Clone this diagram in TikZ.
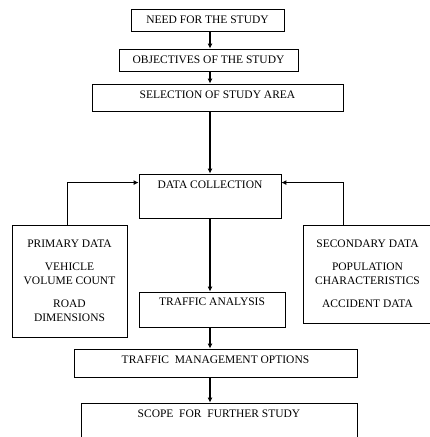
\documentclass[tikz,border=0pt]{standalone}
\usepackage{fontspec}
\setmainfont{Liberation Serif}
\usetikzlibrary{positioning,arrows.meta}

\begin{document}
\begin{tikzpicture}[
  x=1pt,y=1pt,
  font=\fontsize{11.5}{14}\selectfont,
  box/.style={draw,line width=0.8pt,inner sep=0pt,align=center},
  flow/.style={->,line width=1.2pt},
  side/.style={->,line width=0.9pt},
  >={Latex[length=5pt,width=5pt]}]
  \useasboundingbox (0,0) rectangle (429,437);
  % main column
  \node[box,minimum width=153pt,minimum height=22pt] (need) at (207.5,417) {NEED FOR THE STUDY};
  \node[box,minimum width=179pt,minimum height=22pt] (obj) at (208.5,377) {OBJECTIVES OF THE STUDY};
  \node[box,minimum width=251pt,minimum height=27pt,
        label={[anchor=north,yshift=-4pt]north:SELECTION OF STUDY AREA}] (sel) at (217.5,339.5) {};
  \node[box,minimum width=142pt,minimum height=44pt,
        label={[anchor=north,yshift=-4pt]north:DATA COLLECTION}] (dc) at (210,241) {};
  % data sources
  \node[box,minimum width=115pt,minimum height=112pt] (pd) at (69.5,156)
    {PRIMARY DATA\\[9pt]VEHICLE\\VOLUME COUNT\\[9pt]ROAD\\DIMENSIONS};
  \node[box,minimum width=129pt,minimum height=98pt] (sd) at (367.5,163)
    {SECONDARY DATA\\[9pt]POPULATION\\CHARACTERISTICS\\[9pt]ACCIDENT DATA};
  % analysis and results
  \node[box,minimum width=146pt,minimum height=35pt,
        label={[anchor=north,yshift=-3pt]north:TRAFFIC ANALYSIS}] (ta) at (212,127.5) {};
  \node[box,minimum width=283pt,minimum height=28pt,
        label={[anchor=north,yshift=-4pt]north:TRAFFIC\ \ MANAGEMENT OPTIONS}] (tm) at (215.5,74) {};
  \node[box,minimum width=276pt,minimum height=60pt,
        label={[anchor=north,yshift=-4pt]north:SCOPE\ \ FOR\ \ FURTHER STUDY}] (sc) at (219,4) {};
  % arrows
  \draw[flow] (need.south -| dc) -- (obj.north -| dc);
  \draw[flow] (obj.south -| dc) -- (sel.north -| dc);
  \draw[flow] (sel.south -| dc) -- (dc.north);
  \draw[flow] (dc.south) -- (ta.north -| dc);
  \draw[flow] (ta.south -| dc) -- (tm.north -| dc);
  \draw[flow] (tm.south -| dc) -- (sc.north -| dc);
  \draw[side] ([xshift=-2.5pt]pd.north) |- ([yshift=-9pt]dc.north west);
  \draw[side] ([xshift=-24.5pt]sd.north) |- ([yshift=-9pt]dc.north east);
\end{tikzpicture}
\end{document}
